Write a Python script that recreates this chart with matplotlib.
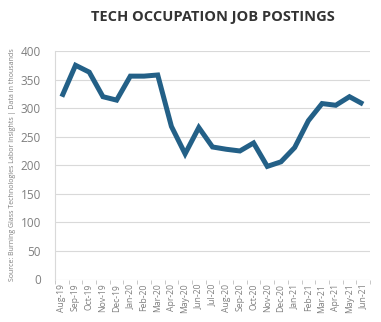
import matplotlib
matplotlib.use("Agg")
import matplotlib.pyplot as plt
from matplotlib.ticker import FixedLocator

months = ["Aug-19", "Sep-19", "Oct-19", "Nov-19", "Dec-19", "Jan-20", "Feb-20",
          "Mar-20", "Apr-20", "May-20", "Jun-20", "Jul-20", "Aug-20", "Sep-20",
          "Oct-20", "Nov-20", "Dec-20", "Jan-21", "Feb-21", "Mar-21", "Apr-21",
          "May-21", "Jun-21"]
postings = [320, 375, 363, 320, 314, 356, 356, 358, 268, 220, 266, 232, 228,
            225, 239, 198, 206, 231, 278, 308, 305, 320, 307]
y_ticks = [0, 50, 100, 150, 200, 250, 300, 350, 400]

plt.rcParams['font.family'] = ['Open Sans', 'DejaVu Sans']

fig = plt.figure(figsize=(3.81, 3.22), dpi=100)
ax = fig.add_axes([55 / 381, 1 - 279.5 / 322, 315 / 381, 228.5 / 322])

x = list(range(len(months)))
ax.plot(x, postings, color="#236087", linewidth=3.6, solid_joinstyle="miter",
        solid_capstyle="butt")

ax.set_xlim(-0.5, len(months) - 0.5)
ax.set_ylim(0, 400)
ax.set_yticks(y_ticks)
ax.set_xticks(x)
ax.set_xticklabels(months, rotation=90, fontsize=6.2, color="#7f7f7f")
ax.xaxis.set_minor_locator(FixedLocator([i - 0.5 for i in range(len(months) + 1)]))
ax.tick_params(axis="x", which="major", length=0, pad=3)
ax.tick_params(axis="x", which="minor", length=3, color="#bfbfbf", width=0.6)
ax.tick_params(axis="y", length=0, labelsize=8.5, labelcolor="#7f7f7f", pad=10)

ax.grid(axis="y", color="#d9d9d9", linewidth=0.8)
ax.set_axisbelow(True)
for side in ("top", "right", "bottom"):
    ax.spines[side].set_visible(False)
ax.spines["left"].set_color("#d9d9d9")
ax.spines["left"].set_linewidth(0.8)

fig.text(213 / 381, 1 - 17 / 322, "TECH OCCUPATION JOB POSTINGS", ha="center",
         va="center", fontsize=10.5, fontweight="bold", color="#333333")
fig.text(13 / 381, 1 - 165 / 322,
         "Source: Burning Glass Technologies Labor Insights | Data in thousands",
         rotation=90, ha="center", va="center", fontsize=5, color="#7f7f7f")

fig.savefig("out.png", dpi=100)
